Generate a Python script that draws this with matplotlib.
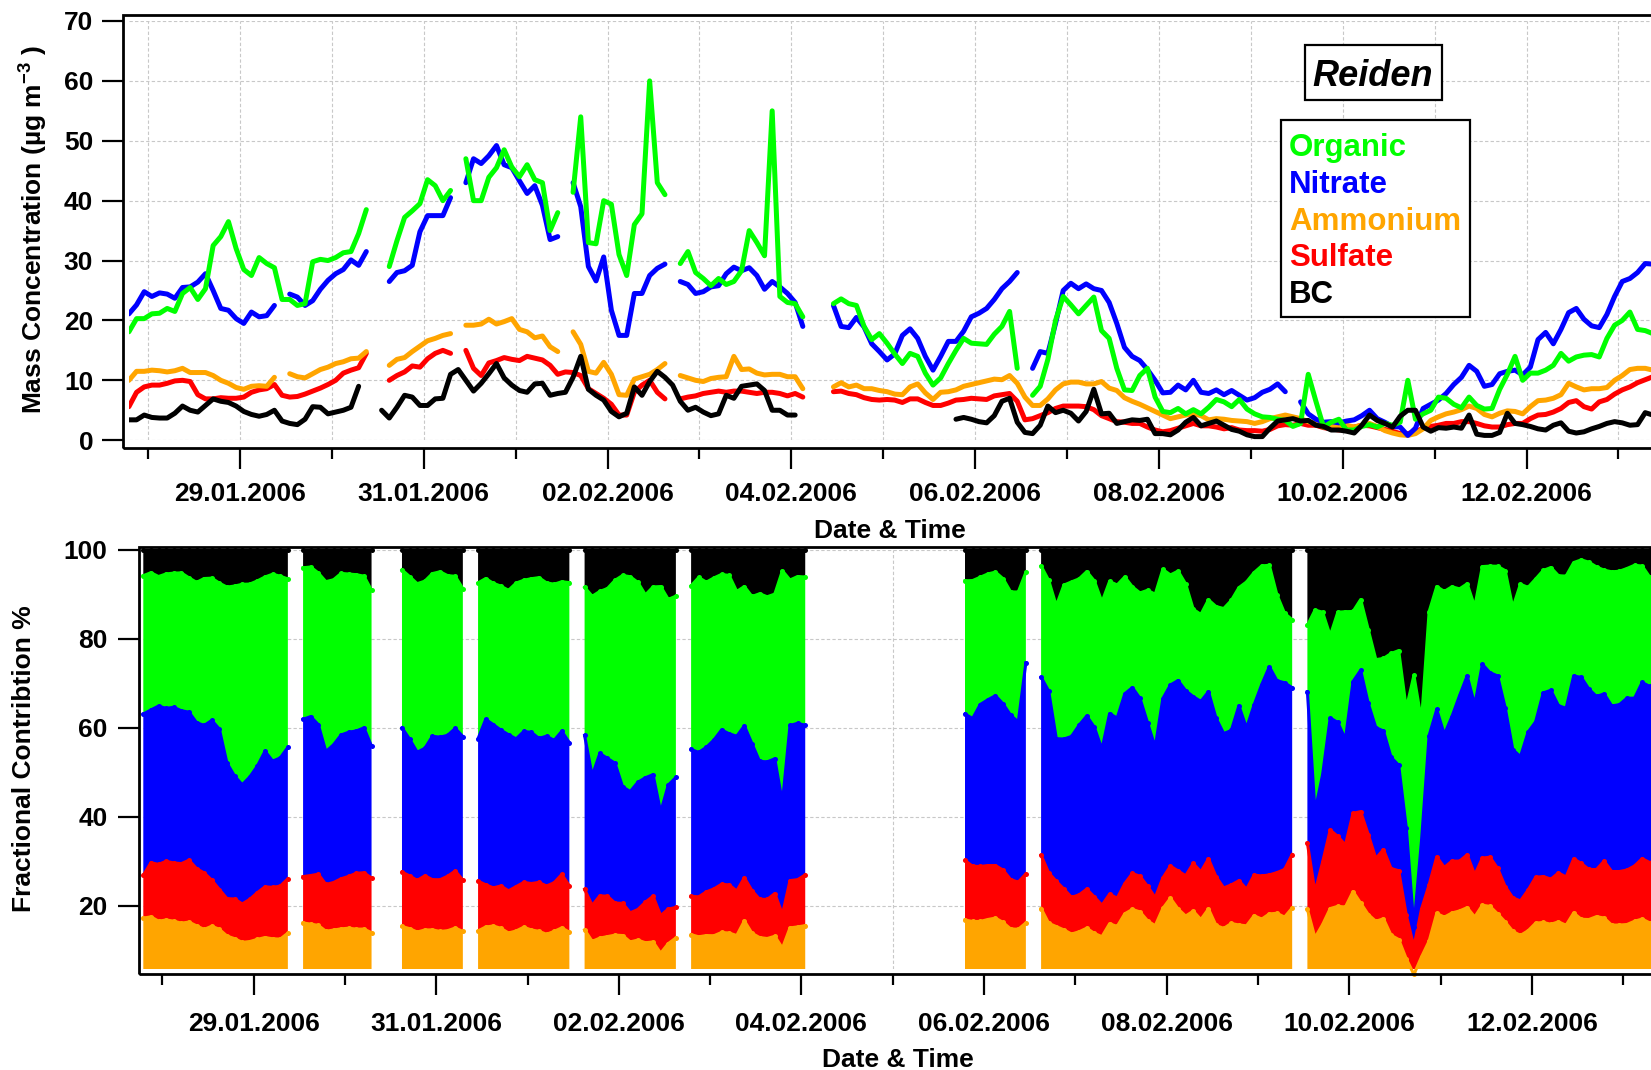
import numpy as np
import pandas as pd
import matplotlib
matplotlib.use('Agg')
import matplotlib.pyplot as plt
import matplotlib.dates as mdates
from matplotlib.ticker import FixedLocator
from matplotlib.patches import Rectangle

nan = np.nan

# two-hourly concentrations (ug/m3), first sample 27.01.2006 19:00
organic = [18.1, 20.3, 20.3, 21.1, 21.2, 22.0, 21.5, 24.5, 25.5, 23.5,
           25.3, 32.5, 34.0, 36.5, 32.0, 28.5, 27.5, 30.5, 29.5, 28.8,
           23.5, 23.5, 22.5, 22.8, 29.8, 30.2, 30.0, 30.5, 31.3, 31.5,
           34.5, 38.5, nan, nan, 29.0, 33.3, 37.2, 38.3, 39.5, 43.5,
           42.5, 40.0, 41.7, nan, 47.0, 40.0, 40.0, 43.9, 45.5, 48.5,
           45.6, 44.0, 46.0, 43.5, 43.0, 35.0, 38.0, nan, 41.4, 54.0,
           33.0, 32.8, 40.0, 39.4, 31.0, 27.5, 36.0, 37.8, 60.0, 43.0,
           41.0, nan, 29.5, 31.5, 28.0, 27.0, 25.8, 27.0, 26.0, 26.5,
           28.3, 35.0, 33.0, 30.8, 55.0, 24.0, 23.0, 22.8, 20.6, nan,
           nan, nan, 22.8, 23.6, 22.8, 22.5, 19.0, 16.8, 17.8, 16.2,
           14.4, 12.8, 14.5, 14.0, 11.2, 9.2, 10.4, 12.8, 15.0, 17.0,
           16.2, 16.1, 16.0, 17.7, 19.0, 21.5, 12.0, nan, 7.5, 9.0,
           13.5, 20.0, 24.0, 22.6, 21.1, 22.5, 23.9, 18.3, 17.0, 12.0,
           8.4, 8.3, 10.8, 12.0, 7.2, 4.8, 4.6, 5.3, 4.4, 5.1,
           4.4, 5.5, 6.8, 6.4, 5.6, 6.8, 5.2, 4.4, 3.9, 3.8,
           3.5, 3.3, 2.3, 2.8, 11.0, 6.5, 2.2, 3.0, 3.5, 1.7,
           1.7, 2.3, 2.6, 2.2, 2.8, 2.5, 3.0, 10.0, 3.5, 4.4,
           5.0, 7.2, 7.0, 6.0, 5.4, 7.2, 5.8, 5.2, 5.3, 8.5,
           11.0, 14.0, 10.0, 11.2, 11.2, 11.7, 12.5, 14.5, 13.2, 13.9,
           14.2, 14.3, 13.9, 17.0, 19.2, 20.0, 21.4, 18.5, 18.3, 17.8]

nitrate = [21.1, 22.6, 24.8, 24.0, 24.6, 24.4, 23.7, 25.5, 25.6, 26.4,
           27.8, 25.0, 22.0, 21.7, 20.3, 19.5, 21.4, 20.6, 20.8, 22.5,
           nan, 24.4, 23.9, 22.5, 23.3, 25.2, 26.7, 27.8, 28.5, 30.1,
           29.2, 31.5, nan, nan, 26.5, 28.0, 28.3, 29.2, 34.8, 37.5,
           37.5, 37.5, 40.5, nan, 43.0, 47.0, 46.2, 47.5, 49.2, 46.0,
           45.5, 43.3, 41.2, 42.5, 39.2, 33.5, 34.0, nan, 43.0, 39.0,
           29.0, 26.6, 30.6, 21.7, 17.5, 17.5, 24.5, 24.5, 27.5, 28.7,
           29.4, nan, 26.5, 26.0, 24.5, 24.8, 25.6, 25.8, 27.8, 28.9,
           28.3, 28.8, 27.5, 25.2, 26.5, 25.6, 24.5, 23.0, 19.0, nan,
           nan, nan, 22.5, 19.0, 18.8, 20.5, 18.9, 16.1, 14.8, 13.4,
           14.4, 17.5, 18.6, 17.0, 14.0, 11.7, 14.0, 16.5, 16.5, 18.2,
           20.6, 21.2, 22.0, 23.5, 25.3, 26.5, 28.0, nan, 12.0, 14.8,
           14.5, 19.5, 25.0, 26.2, 25.3, 26.1, 25.3, 25.0, 23.0, 19.5,
           15.5, 14.0, 13.3, 11.8, 10.0, 7.9, 8.0, 9.2, 8.4, 10.0,
           8.0, 7.8, 8.4, 7.6, 8.3, 7.5, 6.7, 7.1, 8.0, 8.5,
           9.4, 8.1, nan, 6.4, 4.4, 3.5, 3.0, 3.1, 2.9, 3.2,
           3.4, 4.1, 5.0, 3.6, 3.0, 2.3, 2.2, 0.8, 2.0, 5.3,
           6.0, 6.7, 7.8, 9.3, 10.5, 12.5, 11.5, 9.0, 9.3, 11.1,
           11.5, 11.7, 10.9, 12.2, 16.8, 18.0, 16.1, 18.5, 21.3, 22.0,
           20.2, 19.1, 18.8, 21.0, 24.0, 26.5, 27.0, 28.0, 29.5, 29.4]

ammonium = [10.0, 11.5, 11.5, 11.7, 11.6, 11.4, 11.6, 12.0, 11.3, 11.3,
            11.3, 10.8, 10.0, 9.5, 8.8, 8.5, 9.0, 9.1, 9.0, 10.5,
            nan, 11.1, 10.6, 10.4, 11.1, 11.8, 12.2, 12.8, 13.1, 13.6,
            13.7, 14.8, nan, nan, 12.5, 13.5, 13.8, 14.8, 15.7, 16.6,
            17.0, 17.5, 17.8, nan, 19.2, 19.2, 19.4, 20.2, 19.4, 19.8,
            20.3, 18.5, 18.1, 17.1, 17.4, 15.6, 14.8, nan, 18.1, 16.0,
            11.5, 11.2, 13.0, 11.0, 7.6, 7.5, 10.2, 10.6, 11.0, 11.8,
            12.8, nan, 10.8, 10.4, 10.0, 9.8, 10.3, 10.5, 10.6, 14.0,
            11.8, 11.9, 11.2, 10.9, 11.0, 11.0, 10.6, 10.6, 8.6, nan,
            nan, nan, 8.9, 9.6, 8.9, 9.2, 8.6, 8.6, 8.3, 8.1,
            7.7, 7.6, 8.9, 9.4, 7.9, 6.8, 8.0, 8.1, 8.4, 9.0,
            9.3, 9.6, 9.9, 10.2, 10.1, 10.8, 9.5, 7.2, 5.8, 5.8,
            6.9, 8.4, 9.4, 9.7, 9.7, 9.4, 9.4, 9.8, 8.7, 8.3,
            7.1, 6.5, 6.0, 5.4, 4.8, 4.2, 3.6, 3.9, 4.2, 4.4,
            4.1, 3.4, 3.6, 3.5, 3.3, 3.2, 3.1, 2.8, 3.1, 3.6,
            3.9, 4.2, 3.9, 3.6, 3.1, 2.8, 2.3, 2.4, 2.4, 2.5,
            2.2, 2.5, 2.8, 2.3, 1.6, 1.2, 0.9, 0.8, 1.1, 1.9,
            3.3, 3.9, 4.4, 4.7, 5.1, 5.7, 5.3, 4.3, 3.9, 4.5,
            4.9, 4.8, 4.4, 5.6, 6.6, 6.7, 7.0, 7.6, 9.5, 8.9,
            8.4, 8.6, 8.6, 8.8, 10.0, 10.8, 11.8, 12.0, 12.0, 11.7]

sulfate = [5.6, 8.0, 8.9, 9.2, 9.2, 9.5, 9.9, 10.0, 9.8, 7.6,
           6.9, 6.9, 7.1, 7.0, 7.0, 7.2, 8.0, 8.4, 8.6, 9.3,
           7.5, 7.2, 7.3, 7.7, 8.2, 8.7, 9.3, 10.0, 11.2, 11.7,
           12.1, 14.5, nan, nan, 10.0, 10.8, 11.4, 12.4, 12.2, 13.6,
           14.5, 15.0, 14.5, nan, 15.0, 12.0, 10.8, 12.9, 13.3, 13.8,
           13.5, 13.3, 14.0, 13.7, 13.4, 12.5, 11.0, 11.4, 11.3, 10.8,
           8.6, 7.8, 7.0, 6.0, 4.2, 4.2, 8.0, 9.2, 10.0, 8.0,
           6.9, nan, 6.9, 7.2, 7.4, 7.8, 8.0, 8.2, 8.0, 8.2,
           8.2, 8.0, 7.8, 8.0, 8.0, 7.8, 7.4, 7.8, 7.2, nan,
           nan, nan, 8.1, 8.2, 7.8, 7.6, 7.1, 6.8, 6.7, 6.8,
           6.7, 6.3, 6.9, 6.9, 6.3, 5.8, 5.8, 6.2, 6.7, 6.8,
           7.0, 6.9, 6.8, 7.4, 7.6, 7.8, 6.5, 3.4, 3.6, 4.1,
           4.6, 5.3, 5.7, 5.7, 5.7, 5.6, 5.1, 4.1, 3.6, 3.1,
           3.0, 2.8, 2.8, 2.2, 1.7, 1.4, 1.6, 2.0, 2.4, 2.8,
           2.4, 2.4, 2.2, 1.9, 2.1, 1.7, 1.6, 1.6, 1.5, 1.8,
           2.4, 2.6, 2.5, 2.8, 2.5, 2.5, 2.1, 1.9, 1.7, 1.9,
           2.2, 2.5, 2.4, 2.1, 1.8, 1.5, 1.1, 1.1, 1.4, 2.0,
           2.3, 2.5, 2.8, 2.8, 3.1, 3.1, 2.8, 2.4, 2.2, 2.2,
           2.6, 2.8, 2.8, 3.6, 4.2, 4.3, 4.7, 5.3, 6.3, 6.6,
           5.6, 5.2, 6.4, 6.8, 7.7, 8.4, 8.9, 9.6, 10.1, 10.6]

bc = [3.4, 3.4, 4.2, 3.8, 3.7, 3.7, 4.5, 5.7, 5.0, 4.7,
      5.8, 6.9, 6.5, 6.3, 5.7, 4.8, 4.3, 4.0, 4.3, 5.0,
      3.2, 2.8, 2.6, 3.5, 5.6, 5.5, 4.4, 4.7, 5.0, 5.5,
      9.0, nan, nan, 5.0, 3.7, 5.5, 7.5, 7.2, 5.8, 5.8,
      6.9, 7.0, 11.0, 11.8, 10.0, 8.2, 9.5, 11.1, 12.8, 10.4,
      9.2, 8.3, 8.0, 9.4, 9.5, 7.5, 7.8, 8.0, 10.5, 14.0,
      8.5, 7.5, 6.7, 4.8, 3.9, 4.5, 8.9, 7.5, 9.8, 11.5,
      10.5, 9.2, 6.5, 5.0, 5.5, 4.7, 4.1, 4.4, 7.5, 7.0,
      9.0, 9.2, 9.4, 8.3, 5.0, 5.0, 4.2, 4.2, nan, nan,
      nan, nan, nan, nan, nan, nan, nan, nan, nan, nan,
      nan, nan, nan, nan, nan, nan, nan, nan, 3.5, 3.8,
      3.5, 3.1, 2.9, 4.1, 6.5, 7.0, 3.0, 1.3, 1.1, 2.5,
      5.7, 4.6, 5.0, 4.5, 3.2, 4.8, 8.5, 4.4, 4.5, 2.8,
      3.1, 3.4, 3.3, 3.5, 1.1, 1.1, 0.9, 1.7, 3.0, 3.8,
      2.4, 2.8, 3.2, 2.5, 1.8, 1.5, 0.9, 0.6, 0.6, 2.0,
      3.2, 3.4, 3.6, 3.2, 3.3, 2.5, 2.3, 1.7, 1.7, 1.5,
      1.2, 2.5, 4.2, 3.3, 2.8, 2.2, 4.0, 5.0, 5.0, 2.2,
      1.5, 2.1, 2.0, 2.2, 2.0, 4.2, 1.0, 0.8, 0.8, 1.3,
      4.5, 2.8, 2.6, 2.3, 1.9, 1.7, 2.5, 2.9, 1.5, 1.2,
      1.4, 1.9, 2.3, 2.8, 3.1, 2.9, 2.5, 2.6, 4.6, 4.2]

species = ['Organic', 'Nitrate', 'Ammonium', 'Sulfate', 'BC']
colors = ['#00ff00', '#0000ff', '#ffa500', '#ff0000', '#000000']
major_days = pd.date_range('2006-01-29', '2006-02-12', freq='2D')
minor_days = pd.date_range('2006-01-28', '2006-02-13', freq='2D')

times = pd.date_range('2006-01-27 19:00', periods=len(organic), freq='2h')
conc = pd.DataFrame({'Organic': organic, 'Nitrate': nitrate, 'Ammonium': ammonium,
                     'Sulfate': sulfate, 'BC': bc}, index=times)
color_of = dict(zip(species, colors))

# percentage of the total, stacked from ammonium up to BC
stack_order = ['Ammonium', 'Sulfate', 'Nitrate', 'Organic', 'BC']
total = conc.sum(axis=1, skipna=False)
cum = (conc[stack_order].div(total, axis=0) * 100).cumsum(axis=1)

plt.rcParams['font.family'] = ['Liberation Sans', 'DejaVu Sans']
plt.rcParams['font.weight'] = 'bold'
plt.rcParams['mathtext.fontset'] = 'custom'
plt.rcParams['mathtext.rm'] = 'Liberation Sans:bold'
plt.rcParams['mathtext.bf'] = 'Liberation Sans:bold'
plt.rcParams['mathtext.default'] = 'bf'

W, H = 1651, 1070
fig = plt.figure(figsize=(W / 100, H / 100), dpi=100)


def box(x0, y0, x1, y1):
    # pixel box (top-left origin) -> figure fraction rect
    return [x0 / W, 1 - y1 / H, (x1 - x0) / W, (y1 - y0) / H]


x_start = times[0]
x_end = times[0] + pd.Timedelta(days=16.76)

ax1 = fig.add_axes(box(128.9, 21.0, 1669.1, 440.2))
ax2 = fig.add_axes(box(143.3, 549.7, 1673.5, 969.2))

grid_kw = dict(color='#c8c8c8', lw=0.8, linestyle=(0, (3, 2)))

for ax in (ax1, ax2):
    ax.set_xlim(x_start, x_end)
    ax.xaxis.set_major_locator(FixedLocator(mdates.date2num(major_days)))
    ax.xaxis.set_minor_locator(FixedLocator(mdates.date2num(minor_days)))
    ax.xaxis.set_major_formatter(mdates.DateFormatter('%d.%m.%Y'))
    ax.tick_params(which='major', direction='out', length=15, width=1.6, labelsize=19)
    ax.tick_params(which='minor', direction='out', length=8, width=1.6)
    ax.set_axisbelow(True)
    ax.grid(True, which='both', axis='x', **grid_kw)
    ax.grid(True, which='major', axis='y', **grid_kw)
    for s in ax.spines.values():
        s.set_visible(False)

# upper panel: mass concentrations
for name in ['Sulfate', 'Ammonium', 'Nitrate', 'Organic', 'BC']:
    ax1.plot(times, conc[name], color=color_of[name], lw=3.6,
             solid_capstyle='round', solid_joinstyle='round')
ax1.set_ylim(0, 70)
ax1.set_yticks(range(0, 71, 10))
ax1.spines['left'].set_position(('outward', 4.2))
ax1.spines['bottom'].set_position(('outward', 5.3))
ax1.tick_params(axis='x', which='major', pad=9.5)
ax1.tick_params(axis='y', pad=6.5)
fig.add_artist(Rectangle((123 / W, 1 - 447.5 / H), 1.2, (447.5 - 14.7) / H,
                         transform=fig.transFigure, fill=False, lw=2, ec='black'))

# lower panel: fractional contribution
prev = 0
for name in stack_order:
    ax2.fill_between(times, prev, cum[name], color=color_of[name], lw=0)
    prev = cum[name]
for name in stack_order:
    ax2.plot(times, cum[name], color=color_of[name], lw=2.2, marker='o', ms=3.6,
             mew=0, clip_on=False, zorder=3)
ax2.set_ylim(5.7, 100)
ax2.set_yticks([20, 40, 60, 80, 100])
ax2.spines['left'].set_position(('outward', 3.1))
ax2.spines['bottom'].set_position(('outward', 3.5))
ax2.tick_params(axis='x', which='major', pad=12.5)
ax2.tick_params(axis='y', pad=7.5)
fig.add_artist(Rectangle((139 / W, 1 - 974 / H), 1.2, (974 - 546.5) / H,
                         transform=fig.transFigure, fill=False, lw=2, ec='black'))

# axis titles
fig.text(33.7 / W, 1 - 229.6 / H, 'Mass Concentration (\u00b5g m$^{-3}$ )', rotation=90,
         ha='center', va='center', fontsize=19, fontweight='bold')
fig.text(889.8 / W, 1 - 531 / H, 'Date & Time', ha='center', va='center',
         fontsize=19, fontweight='bold')
fig.text(24.2 / W, 1 - 759 / H, 'Fractional Contribtion %', rotation=90,
         ha='center', va='center', fontsize=19, fontweight='bold')
fig.text(898 / W, 1 - 1060 / H, 'Date & Time', ha='center', va='center',
         fontsize=19, fontweight='bold')

# site name box
fig.add_artist(Rectangle((1304.5 / W, 1 - 100 / H), (1442 - 1304.5) / W, (100 - 44.5) / H,
                         transform=fig.transFigure, fill=True, fc='white', lw=1.6, ec='black'))
fig.text(1373 / W, 1 - 86.5 / H, 'Reiden', ha='center', va='baseline', fontsize=26,
         fontweight='bold', fontstyle='italic')

# legend box
fig.add_artist(Rectangle((1281 / W, 1 - 316.5 / H), (1470 - 1281) / W, (316.5 - 119.5) / H,
                         transform=fig.transFigure, fill=True, fc='white', lw=1.6, ec='black'))
baselines = [156, 193.3, 230, 266, 303.3]
for name, yb in zip(species, baselines):
    fig.text(1289 / W, 1 - yb / H, name, color=color_of[name], ha='left', va='baseline',
             fontsize=22.5, fontweight='bold')

fig.savefig('out.png', dpi=100)
